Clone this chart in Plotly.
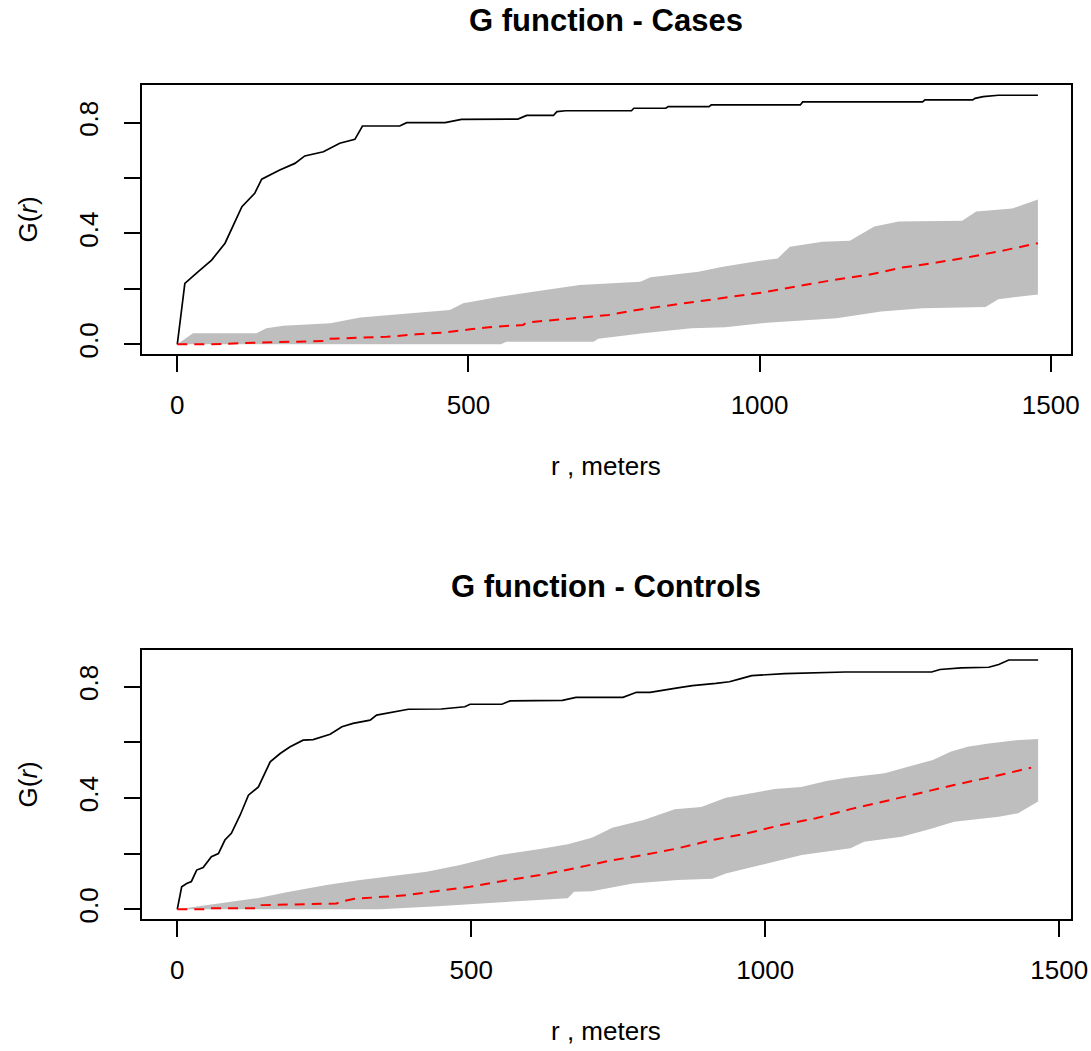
import plotly.graph_objects as go

W, H = 1091, 1051

# ---------------- Cases (top panel) ----------------
cases_obs_r = [0, 13, 36, 59, 82, 111, 133, 145, 176, 202, 219, 251, 279, 305, 318, 382, 394, 460, 488,
               585, 600, 646, 652, 667, 780, 784, 839, 843, 913, 917, 1070, 1074, 1280, 1284, 1366, 1370,
               1384, 1410, 1478]
cases_obs_G = [0, 0.22, 0.262, 0.304, 0.365, 0.497, 0.545, 0.596, 0.629, 0.653, 0.68, 0.695, 0.726, 0.74,
               0.788, 0.788, 0.80, 0.80, 0.812, 0.813, 0.826, 0.826, 0.84, 0.843, 0.843, 0.852, 0.852,
               0.858, 0.858, 0.864, 0.864, 0.875, 0.875, 0.882, 0.882, 0.888, 0.894, 0.899, 0.899]

cases_theo_r = [0, 60, 136, 254, 260, 360, 411, 460, 503, 531, 594, 600, 682, 741, 795, 860, 919, 1008,
                1067, 1126, 1185, 1245, 1304, 1363, 1422, 1478]
cases_theo_G = [0, 0, 0.006, 0.012, 0.02, 0.027, 0.036, 0.043, 0.054, 0.061, 0.07, 0.079, 0.094, 0.106,
                0.126, 0.145, 0.16, 0.188, 0.21, 0.232, 0.25, 0.277, 0.295, 0.316, 0.34, 0.365]

cases_hi_r = [0, 27, 136, 153, 182, 263, 314, 468, 491, 554, 623, 691, 795, 813, 895, 937, 990, 1031, 1052,
              1108, 1155, 1197, 1239, 1348, 1372, 1434, 1478]
cases_hi_G = [0, 0.04, 0.04, 0.058, 0.067, 0.076, 0.097, 0.124, 0.148, 0.172, 0.193, 0.214, 0.226, 0.242,
              0.262, 0.28, 0.298, 0.31, 0.352, 0.37, 0.374, 0.425, 0.443, 0.446, 0.479, 0.49, 0.523]

cases_lo_r = [0, 556, 565, 715, 723, 800, 883, 941, 1013, 1132, 1209, 1280, 1388, 1410, 1478]
cases_lo_G = [0, 0, 0.009, 0.009, 0.02, 0.04, 0.058, 0.062, 0.078, 0.094, 0.118, 0.13, 0.135, 0.163, 0.18]

# ---------------- Controls (bottom panel) ----------------
ctrl_obs_r = [0, 7.5, 16, 24, 33, 44, 58, 70, 81, 92, 107, 121, 138, 158, 175, 192, 214, 231, 260, 280,
              299, 328, 339, 367, 393, 449, 489, 498, 552, 566, 617, 655, 678, 758, 781, 804, 851, 876,
              916, 939, 957, 977, 1033, 1136, 1283, 1297, 1333, 1380, 1397, 1414, 1464]
ctrl_obs_G = [0, 0.081, 0.093, 0.1, 0.141, 0.15, 0.189, 0.2, 0.249, 0.273, 0.339, 0.41, 0.44, 0.53, 0.56,
              0.584, 0.608, 0.61, 0.629, 0.656, 0.668, 0.68, 0.698, 0.71, 0.719, 0.72, 0.728, 0.737, 0.737,
              0.749, 0.751, 0.751, 0.762, 0.762, 0.78, 0.78, 0.796, 0.804, 0.812, 0.818, 0.828, 0.84,
              0.847, 0.853, 0.853, 0.862, 0.868, 0.87, 0.88, 0.896, 0.896]

ctrl_theo_r = [0, 46, 50, 138, 143, 271, 277, 299, 390, 435, 498, 554, 617, 675, 734, 793, 851, 910, 969,
               1027, 1086, 1145, 1203, 1262, 1321, 1379, 1452]
ctrl_theo_G = [0, 0, 0.004, 0.004, 0.015, 0.021, 0.027, 0.037, 0.051, 0.063, 0.081, 0.102, 0.123, 0.147,
               0.174, 0.195, 0.219, 0.249, 0.273, 0.303, 0.327, 0.36, 0.387, 0.417, 0.447, 0.473, 0.509]

ctrl_hi_r = [0, 136, 186, 254, 311, 379, 424, 481, 549, 617, 664, 705, 740, 793, 846, 891, 933, 1016, 1061,
             1104, 1138, 1203, 1285, 1315, 1344, 1380, 1426, 1464]
ctrl_hi_G = [0, 0.04, 0.061, 0.087, 0.105, 0.123, 0.135, 0.159, 0.195, 0.217, 0.234, 0.257, 0.293, 0.321,
             0.36, 0.368, 0.401, 0.432, 0.44, 0.461, 0.473, 0.489, 0.537, 0.566, 0.584, 0.596, 0.608, 0.612]

ctrl_lo_r = [0, 345, 435, 549, 617, 664, 675, 705, 775, 851, 910, 933, 992, 1062, 1145, 1168, 1232, 1285,
             1321, 1397, 1430, 1464]
ctrl_lo_G = [0, 0, 0.01, 0.025, 0.035, 0.04, 0.063, 0.065, 0.093, 0.105, 0.11, 0.129, 0.159, 0.195, 0.219,
             0.243, 0.261, 0.291, 0.315, 0.333, 0.345, 0.387]

x_tickvals = [0, 500, 1000, 1500]
x_ticktext = ["0", "500", "1000", "1500"]
y_tickvals = [0, 0.2, 0.4, 0.6, 0.8]
y_ticktext = ["0.0", "", "0.4", "", "0.8"]

titles = ["G function - Cases", "G function - Controls"]
x_label = "r , meters"
y_label = "G(<i>r</i>)"

FONT = "Liberation Sans, Arial, sans-serif"
FS = 26

fig = go.Figure()

panels = [
    (cases_obs_r, cases_obs_G, cases_theo_r, cases_theo_G, cases_hi_r, cases_hi_G, cases_lo_r, cases_lo_G, "x", "y"),
    (ctrl_obs_r, ctrl_obs_G, ctrl_theo_r, ctrl_theo_G, ctrl_hi_r, ctrl_hi_G, ctrl_lo_r, ctrl_lo_G, "x2", "y2"),
]

for (obs_r, obs_G, th_r, th_G, hi_r, hi_G, lo_r, lo_G, xa, ya) in panels:
    fig.add_trace(go.Scatter(x=hi_r, y=hi_G, mode="lines", line=dict(width=0, color="#BEBEBE"),
                             xaxis=xa, yaxis=ya, showlegend=False, hoverinfo="skip"))
    fig.add_trace(go.Scatter(x=lo_r, y=lo_G, mode="lines", line=dict(width=0, color="#BEBEBE"),
                             fill="tonexty", fillcolor="#BEBEBE",
                             xaxis=xa, yaxis=ya, showlegend=False, hoverinfo="skip"))
    fig.add_trace(go.Scatter(x=obs_r, y=obs_G, mode="lines", line=dict(width=1.7, color="black"),
                             xaxis=xa, yaxis=ya, showlegend=False))
    fig.add_trace(go.Scatter(x=th_r, y=th_G, mode="lines",
                             line=dict(width=2, color="red", dash="10px,7px"),
                             xaxis=xa, yaxis=ya, showlegend=False))

def px_y(p):
    return 1 - p / H

xdom = [141.7 / W, 1070.7 / W]
common_x = dict(showline=True, mirror=True, linecolor="black", linewidth=1.5, ticks="outside",
                ticklen=16, tickwidth=1.5, tickcolor="black", tickvals=x_tickvals, ticktext=x_ticktext,
                showgrid=False, zeroline=False, tickfont=dict(family=FONT, size=FS, color="black"),
                automargin=False, domain=xdom, ticklabelstandoff=11)
common_y = dict(showline=True, mirror=True, linecolor="black", linewidth=1.5, ticks="outside",
                ticklen=16, tickwidth=1.5, tickcolor="black", tickvals=y_tickvals, ticktext=y_ticktext,
                showgrid=False, zeroline=False, tickfont=dict(family=FONT, size=FS, color="black"),
                automargin=False, tickangle=-90, ticklabelstandoff=16)

fig.update_layout(
    width=W, height=H,
    margin=dict(l=0, r=0, t=0, b=0),
    plot_bgcolor="white", paper_bgcolor="white",
    xaxis=dict(common_x, range=[-61.1, 1534.3], anchor="y"),
    yaxis=dict(common_y, range=[-0.035, 0.936], domain=[px_y(354), px_y(85)], anchor="x"),
    xaxis2=dict(common_x, range=[-60.5, 1519.4], anchor="y2"),
    yaxis2=dict(common_y, range=[-0.0349, 0.932], domain=[px_y(919), px_y(650)], anchor="x2"),
)

annotations = []
for i, (top, bottom) in enumerate([(85, 354), (650, 919)]):
    annotations.append(dict(text="<b>" + titles[i] + "</b>", x=606 / W, y=px_y(top - 64), xref="paper",
                            yref="paper", showarrow=False, xanchor="center", yanchor="middle",
                            font=dict(family=FONT, size=31, color="black")))
    annotations.append(dict(text=x_label, x=606 / W, y=px_y(bottom + 112), xref="paper", yref="paper",
                            showarrow=False, xanchor="center", yanchor="middle",
                            font=dict(family=FONT, size=FS, color="black")))
    annotations.append(dict(text=y_label, x=27 / W, y=px_y((top + bottom) / 2), xref="paper", yref="paper",
                            showarrow=False, xanchor="center", yanchor="middle", textangle=-90,
                            font=dict(family=FONT, size=FS, color="black")))
fig.update_layout(annotations=annotations)

fig.write_html("out.html")
